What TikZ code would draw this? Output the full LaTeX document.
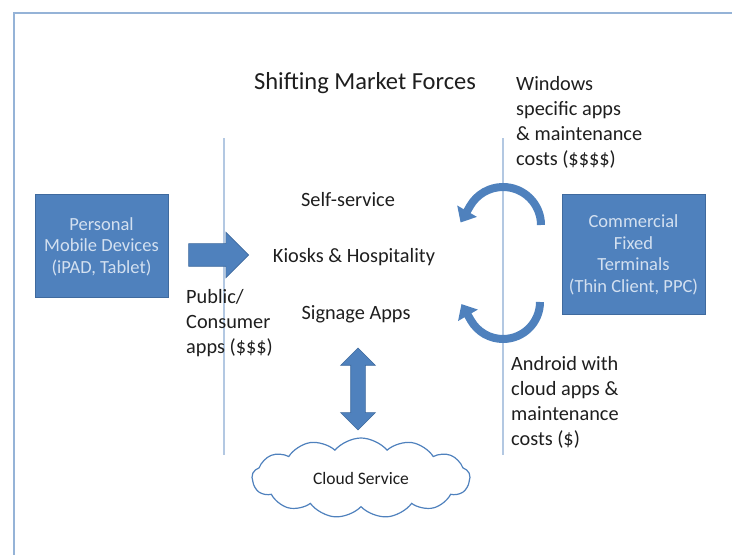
\documentclass[tikz,border=0pt]{standalone}
\usepackage{fontspec}
\setmainfont{Carlito}
\usepackage{tikz}
\usetikzlibrary{positioning}
\usetikzlibrary{shapes.arrows,shapes.symbols}
\usetikzlibrary{arrows.meta}
\definecolor{forceblue}{HTML}{4F81BD}
\definecolor{forceedge}{HTML}{3F6A9E}
\definecolor{forcetext}{HTML}{D3E0F0}
\definecolor{framecol}{HTML}{95B3D7}
\definecolor{rulecol}{HTML}{B3C8E2}
\definecolor{ink}{HTML}{1E1E1E}

\begin{document}
\begin{tikzpicture}[x=1pt,y=1pt,node distance=57pt,on grid,
		device/.style={rectangle,draw=forceedge,fill=forceblue,line width=1pt,text=forcetext,align=center,font=\fontsize{18.5}{21.5}\selectfont},
		note/.style={text=ink,align=left,inner sep=0pt,font=\fontsize{20.3}{25}\selectfont},
		divider/.style={draw=rulecol,line width=1.5pt},
		turn/.style={draw=forceblue,line width=8pt,-{Triangle[width=22pt,length=13pt]}},
		block/.style={fill=forceblue,draw=forceedge,line width=0.6pt,inner sep=0pt}]
		\useasboundingbox (0,0) rectangle (732,555);
		\draw[framecol,line width=2.5pt] (14,0) -- (14,542) -- (732,542);
		\draw[divider] (224,100) -- (224,417);
		\draw[divider] (503,100) -- (503,417);

		\node[text=ink,font=\fontsize{24.5}{29}\selectfont] (title) at (365,472) {Shifting Market Forces};
		\node[note]  (kiosk)   at (354,298)                {Kiosks \& Hospitality};
		\node[note]  (self)    [above=of kiosk,xshift=-6pt] {Self-service};
		\node[note]  (signage) [below=of kiosk,xshift=2pt]  {Signage Apps};

		\node[device,minimum width=133pt,minimum height=103pt] (mobile) at (101.5,308.5) {Personal\\Mobile Devices\\(iPAD, Tablet)};
		\node[device,minimum width=143pt,minimum height=120pt] (fixed)  at (633.5,300)   {Commercial\\Fixed\\Terminals\\(Thin Client, PPC)};

		\node[note,anchor=west] (public)  at (186,232) {Public/\\Consumer\\apps (\$\$\$)};
		\node[note,anchor=west] (windows) at (516,433) {Windows\\specific apps\\\& maintenance\\costs (\$\$\$\$)};
		\node[note,anchor=west] (android) at (511,153) {Android with\\cloud apps \&\\maintenance\\costs (\$)};

		\node[block,single arrow,inner ysep=11pt,minimum height=60pt,single arrow head extend=11.5pt] (push) at (213,300) {};
		\node[block,double arrow,rotate=90,inner ysep=7pt,minimum height=82pt,double arrow head extend=10pt] (link) at (358,166) {};
		\node[cloud,cloud ignores aspect,draw=forceblue,line width=1.2pt,fill=white,cloud puffs=13,cloud puff arc=100,minimum width=218pt,minimum height=80pt,text=ink,font=\fontsize{17.5}{21}\selectfont] (cloud) at (361,77) {Cloud Service};

		\coordinate (upper) at (503,330);
		\coordinate (lower) at (503,253);
		\draw[turn] ([xshift=38pt]upper) arc[start angle=0,end angle=150,radius=38pt] -- ++(240:19pt);
		\draw[turn] ([xshift=37pt]lower) arc[start angle=0,end angle=-150,radius=37pt] -- ++(120:19pt);
\end{tikzpicture}
\end{document}
